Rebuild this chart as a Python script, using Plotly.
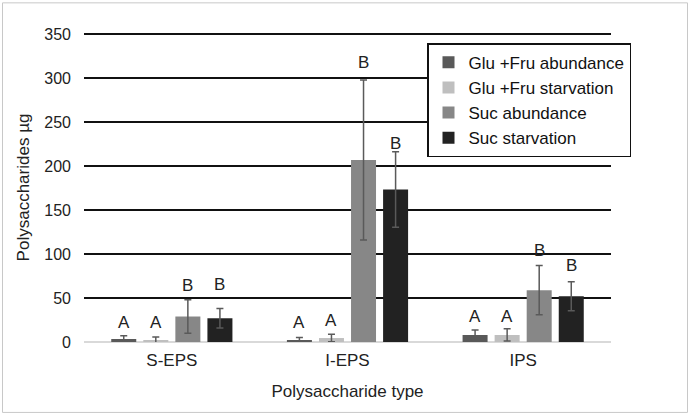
import plotly.graph_objects as go

categories = ["S-EPS", "I-EPS", "IPS"]
series_names = ["Glu +Fru abundance", "Glu +Fru starvation", "Suc abundance", "Suc starvation"]
values = [
    [3.4, 2.0, 8.0],
    [2.3, 4.5, 8.0],
    [29.0, 207.0, 59.0],
    [27.0, 173.5, 52.0],
]
errors = [
    [3.6, 3.0, 5.6],
    [3.4, 4.2, 7.0],
    [19.0, 91.0, 28.0],
    [11.0, 43.0, 16.5],
]
letters = [
    ["A", "A", "A"],
    ["A", "A", "A"],
    ["B", "B", "B"],
    ["B", "B", "B"],
]
letter_y = [
    [22, 22, 29],
    [22, 24, 29],
    [64, 318, 104],
    [65.5, 226, 87],
]
colors = ["#595959", "#bfbfbf", "#878787", "#222222"]
y_ticks = [0, 50, 100, 150, 200, 250, 300, 350]

FONT = "Liberation Sans, Arial, sans-serif"
YMAX = 351.5

fig = go.Figure()
for i, name in enumerate(series_names):
    fig.add_trace(go.Bar(
        x=categories, y=values[i], name=name,
        marker=dict(color=colors[i], line=dict(width=0)),
        error_y=dict(type="data", array=errors[i], visible=True,
                     color="#5a5a5a", thickness=1.5, width=3.5),
    ))

n = len(series_names)
bargap = 0.27
slot = (1 - bargap) / n
for i in range(n):
    off = -(1 - bargap) / 2 + slot * (i + 0.5)
    for j, cat in enumerate(categories):
        fig.add_annotation(
            x=j + off, y=letter_y[i][j], xref="x", yref="y",
            text=letters[i][j], showarrow=False,
            font=dict(family=FONT, size=17, color="#222222"),
            yanchor="middle",
        )

W, H = 690, 416
L, R, B = 84, 79, 74
ph = 308 * YMAX / 350
T = H - B - ph
pw = W - L - R

def px(xp):
    return (xp - L) / pw

def py(yp):
    return (H - B - yp) / ph

fig.add_shape(type="rect", xref="paper", yref="paper",
              x0=px(2.5), x1=px(687.5), y0=py(412.5), y1=py(2.5),
              line=dict(color="#c8c8c8", width=1))

fig.update_layout(
    width=W, height=H,
    margin=dict(l=L, r=R, t=T, b=B),
    paper_bgcolor="white", plot_bgcolor="white",
    barmode="group", bargap=bargap, bargroupgap=0.22,
    font=dict(family=FONT, size=16, color="#222222"),
    showlegend=True,
    legend=dict(
        x=px(427), y=py(43), xanchor="left", yanchor="top",
        bgcolor="white", bordercolor="#111111", borderwidth=1.5,
        font=dict(family=FONT, size=17, color="#111111"),
        itemwidth=30, tracegroupgap=0,
    ),
)
fig.update_xaxes(
    type="category", range=[-0.5, 2.5],
    showgrid=False, zeroline=False, showline=False, ticks="",
    ticklabelstandoff=6,
    tickfont=dict(family=FONT, size=17, color="#222222"),
    title=dict(text="Polysaccharide type", font=dict(family=FONT, size=17, color="#222222"), standoff=16),
)
fig.update_yaxes(
    range=[0, YMAX], tickvals=y_ticks,
    showgrid=True, gridcolor="#111111", gridwidth=1.8,
    zeroline=True, zerolinecolor="#d9d9d9", zerolinewidth=2,
    showline=False, ticks="",
    ticklabelstandoff=12,
    tickfont=dict(family=FONT, size=16, color="#222222"),
    title=dict(text="Polysaccharides µg", font=dict(family=FONT, size=17, color="#222222"), standoff=10),
)

fig.write_html("out.html", config={"displayModeBar": False},
               post_script="document.body.style.margin='0';")
